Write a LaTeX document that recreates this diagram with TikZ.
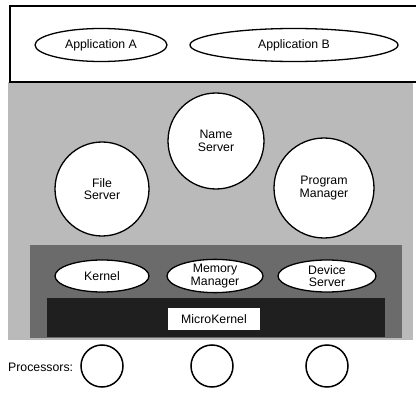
\documentclass[tikz,border=0pt]{standalone}
\usepackage{fontspec}
\setmainfont{Liberation Sans}
\usetikzlibrary{shapes.geometric}
\begin{document}
\begin{tikzpicture}[
    x=1pt, y=-1pt,
    every node/.style={align=center, font=\fontsize{12.3}{12.5}\selectfont},
    app ellipse/.style={draw, line width=1.3pt, fill=white, ellipse, inner sep=0pt, minimum height=33pt},
    server circle/.style={draw, line width=1.3pt, fill=white, circle, inner sep=0pt},
    kernel ellipse/.style={draw, line width=1.3pt, fill=white, ellipse, inner sep=0pt, minimum width=96pt, minimum height=32pt},
    processor/.style={draw, line width=1.5pt, circle, inner sep=0pt, minimum size=42pt},
    ]
\useasboundingbox (0,0) rectangle (416,393);
\fill[white] (0,0) rectangle (416,393);
\fill[black!27] (8,82) rectangle (413,340);
\draw[line width=1.3pt, fill=white] (418,6) -- (10,6) -- (10,82) -- (418,82);
\node[app ellipse, minimum width=132pt] (appA) at (101,45) {Application A};
\node[app ellipse, minimum width=208pt] (appB) at (294,45) {Application B};
\node[server circle, minimum size=96pt] (name) at (216,141) {Name\\Server};
\node[server circle, minimum size=94pt] (file) at (102,189) {File\\Server};
\node[server circle, minimum size=100pt] (program) at (324,188) {Program\\Manager};
\fill[black!58] (30,245) rectangle (402,338);
\fill[black!88] (47,298) rectangle (385,337);
\node[kernel ellipse, minimum width=94pt] (kernel) at (102,276) {Kernel};
\node[kernel ellipse] (memory) at (215,276) {Memory\\Manager};
\node[kernel ellipse, minimum width=98pt] (device) at (327,276) {Device\\Server};
\node[fill=white, minimum width=92pt, minimum height=22pt, inner sep=0pt] (micro) at (214,319) {MicroKernel};
\node[anchor=west, inner sep=0pt] (proc) at (8,367) {Processors:};
\node[processor] (cpuA) at (102,366) {};
\node[processor] (cpuB) at (212,366) {};
\node[processor] (cpuC) at (327,366) {};
\end{tikzpicture}
\end{document}
